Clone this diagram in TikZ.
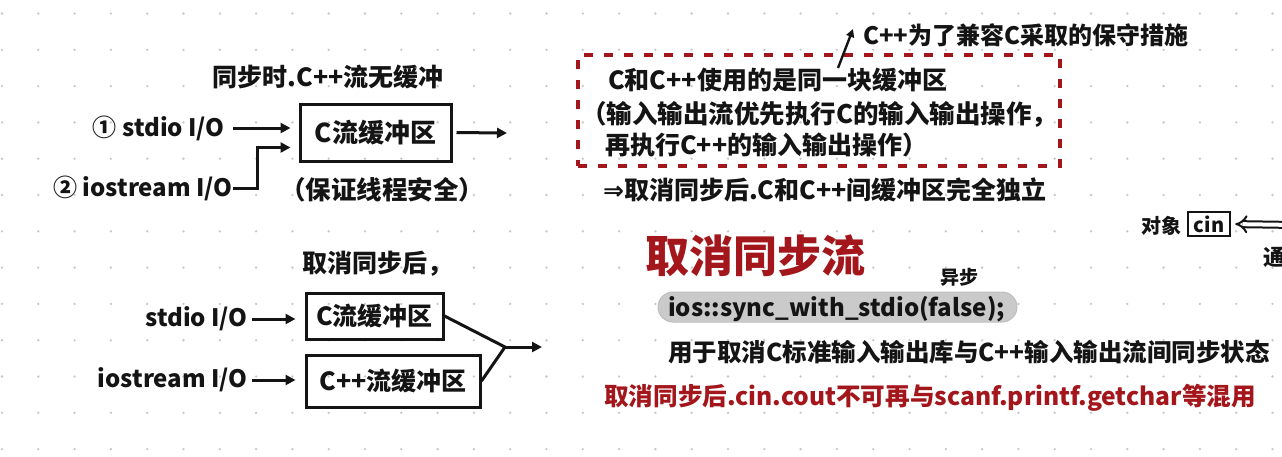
\documentclass[tikz,border=0pt]{standalone}
\usepackage{fontspec}
\setmainfont{Noto Sans CJK SC}
\newfontfamily\djv{DejaVu Sans}
\usetikzlibrary{arrows.meta}
\definecolor{dred}{HTML}{A3161B}
\definecolor{dotc}{HTML}{C8C8C8}
\definecolor{pillc}{HTML}{CACACA}
\newcommand{\fsz}[1]{\fontsize{#1}{#1}\selectfont\bfseries}
\tikzset{
  txt/.style={inner sep=0pt, text=black!92},
  boxn/.style={draw=black!92, line width=3pt, inner sep=0pt, text=black!92},
  arr/.style={line width=3pt, draw=black!92, -{Triangle[length=10pt,width=10pt]}},
  plain/.style={line width=3pt, draw=black!92},
  dbox/.style={draw=dred, line width=3.2pt, dash pattern=on 9pt off 11pt},
}
\begin{document}
\begin{tikzpicture}[x=1pt,y=-1pt]
\fill[white] (0,0) rectangle (1282,456);
\useasboundingbox (0,0) rectangle (1282,456);
% dot grid
\foreach \i in {0,...,35} {
  \foreach \j in {0,...,12} {
    \fill[dotc] (2+36.3*\i, 13.5+36.3*\j) circle[radius=1.3pt];
  }
}
% ---------- top left ----------
\node[txt, font=\fsz{25}] (t1) at (328,77) {同步时.C++流无缓冲};
\node[txt, font=\fsz{24}, anchor=east] (s1) at (225,128) {① stdio I/O};
\node[txt, font=\fsz{24}, anchor=east] (s2) at (233,188) {② iostream I/O};
\node[boxn, font=\fsz{26}, minimum width=151pt, minimum height=57pt] (b1) at (375.5,132.5) {C流缓冲区};
\node[txt, font=\fsz{25.5}] (n1) at (382,190) {（保证线程安全）};
\coordinate (o1) at (507,133);
\draw[arr, shorten <=8pt, shorten >=8pt] (s1.east) -- (s1.east -| b1.west);
\draw[arr, shorten >=8pt] (s2.east) -- ++(24,0) |- ([yshift=-15pt]b1.west);
\draw[arr, shorten <=4pt] (b1.east) -- (o1);
% ---------- bottom left ----------
\node[txt, font=\fsz{25}] (t2) at (377,264) {取消同步后，};
\node[txt, font=\fsz{24}, anchor=east] (s3) at (248,319) {stdio I/O};
\node[txt, font=\fsz{24}, anchor=east] (s4) at (248,380) {iostream I/O};
\node[boxn, font=\fsz{25}, minimum width=137pt, minimum height=46pt] (b2) at (374.5,316) {C流缓冲区};
\node[boxn, font=\fsz{25}, minimum width=174pt, minimum height=52pt] (b3) at (393,381) {C++流缓冲区};
\coordinate (m) at (505,347);
\coordinate (e) at (542,347);
\draw[arr, shorten <=4pt, shorten >=9pt] (s3.east) -- (s3.east -| b2.west);
\draw[arr, shorten <=4pt, shorten >=9pt] (s4.east) -- (s4.east -| b3.west);
\draw[plain] (b2.east) -- (m) -- (b3.east);
\draw[arr] (m) -- (e);
% ---------- dashed box ----------
\node[dbox, minimum width=482pt, minimum height=111pt, inner sep=0pt] (d) at (819,110.5) {};
\node[txt, font=\fsz{25}, anchor=west] (d1) at (608,80) {C和C++使用的是同一块缓冲区};
\node[txt, font=\fsz{25.5}, anchor=west] (d2) at (581,114) {（输入输出流优先执行C的输入输出操作，};
\node[txt, font=\fsz{25}, anchor=west] (d3) at (605,145) {再执行C++的输入输出操作）};
\node[txt, font=\fsz{25}, anchor=west] (d4) at (603,190) {{\djv ⇒}取消同步后.C和C++间缓冲区完全独立};
\node[txt, font=\fsz{24}, anchor=west] (ann) at (863,35) {C++为了兼容C采取的保守措施};
\coordinate (a0) at (838,68);
\coordinate (a1) at (853,29);
\draw[line width=2.4pt, draw=black!92, -{Triangle[length=8pt,width=8pt]}] (a0) -- (a1);
% ---------- right middle ----------
\node[txt, font=\fsz{44}, text=dred] (big) at (755,256) {取消同步流};
\node[txt, font=\fsz{19}] (async) at (959,277) {异步};
\node[draw=black!25, line width=1pt, fill=pillc, rounded corners=15pt, minimum width=359pt, minimum height=30pt, inner sep=0pt] (pill) at (837.5,307) {};
\node[txt, font=\fsz{24}, anchor=west] (code) at (668,309) {ios::sync\_with\_stdio(false);};
\node[txt, font=\fsz{24.5}, anchor=west] (use) at (668,352) {用于取消C标准输入输出库与C++输入输出流间同步状态};
\node[txt, font=\fsz{24.6}, anchor=west, text=dred] (warn) at (604,398) {取消同步后.cin.cout不可再与scanf.printf.getchar等混用};
% ---------- far right ----------
\node[txt, font=\fsz{20}] (obj) at (1161,226) {对象};
\node[draw=black!92, line width=2.4pt, font=\fsz{20}, minimum width=42pt, minimum height=24pt, inner sep=0pt, text=black!92] (cin) at (1209,224) {cin};
\coordinate (c0) at (1295,225);
\draw[double=white, draw=black!92, line width=2pt, double distance=4pt, -Implies, shorten >=4pt] (c0) -- (cin.east);
\node[txt, font=\fsz{22}, anchor=west] (tong) at (1263,257) {通};
\end{tikzpicture}
\end{document}
